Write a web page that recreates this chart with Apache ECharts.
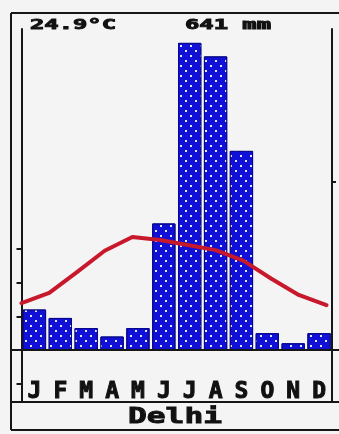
<!DOCTYPE html>
<html>
<head>
<meta charset="utf-8">
<script src="https://cdn.jsdelivr.net/npm/echarts@6/dist/echarts.min.js"></script>
<style>
  html, body { margin: 0; padding: 0; background: #f4f4f4; }
  #chart { width: 339px; height: 434px; }
</style>
</head>
<body>
<div id="chart"></div>
<script>
// Climate diagram for Delhi: monthly precipitation bars and mean temperature curve
const months = ['J', 'F', 'M', 'A', 'M', 'J', 'J', 'A', 'S', 'O', 'N', 'D'];
const precipitation = [24, 19, 13, 8, 13, 75, 182, 174, 118, 10, 4, 10];   // mm
const temperature = [13.9, 16.9, 23.1, 29.4, 33.5, 32.6, 31.1, 29.6, 26.5, 21.2, 16.3, 13.3]; // °C
const tempTicks = [-10, 10, 20, 30];
const precipTicks = [100];
const meanTempLabel = '24.9°C';
const totalPrecipLabel = '641 mm';
const stationName = 'Delhi';

const INK = '#161616';
const FONT = 'DejaVu Sans Mono';

// Frame geometry
const frameL = 11, frameT = 13, frameB = 430, pageR = 339;
const plotT = 29, plotB = 402, zeroY = 350, axisL = 21.5, axisR = 332;

// 10 °C and 20 mm share the same height
const pxPerDeg = 3.375;
const pxPerMm = pxPerDeg / 2;
const tMin = -(plotB - zeroY) / pxPerDeg, tMax = (zeroY - plotT) / pxPerDeg;
const pMin = -(plotB - zeroY) / pxPerMm, pMax = (zeroY - plotT) / pxPerMm;

function hline(y, x1, x2) {
  return { type: 'line', silent: true, z: 50,
    shape: { x1: x1, y1: y, x2: x2, y2: y },
    style: { stroke: INK, lineWidth: 2 } };
}
function vline(x, y1, y2) {
  return { type: 'line', silent: true, z: 50,
    shape: { x1: x, y1: y1, x2: x, y2: y2 },
    style: { stroke: INK, lineWidth: 2 } };
}
// Heavy block lettering: bold glyphs with a thin outline of the same ink
function label(text, x, y, size, sx, align) {
  return { type: 'text', silent: true, z: 60, x: x, y: y, scaleX: sx,
    style: { text: text, x: 0, y: 0, fill: '#111', stroke: '#111', lineWidth: 0.9,
      fontFamily: FONT, fontWeight: 'bold', fontSize: size,
      align: align, verticalAlign: 'top' } };
}

const chart = echarts.init(document.getElementById('chart'), null, { renderer: 'canvas' });
chart.setOption({
  backgroundColor: '#f4f4f4',
  animation: false,
  grid: { left: axisL, right: pageR - axisR, top: plotT, bottom: 434 - plotB, containLabel: false },
  xAxis: [
    { type: 'category', data: months,
      axisLine: { show: false }, axisTick: { show: false }, splitLine: { show: false },
      axisLabel: { inside: true, margin: -2, interval: 0, color: '#111',
        textBorderColor: '#111', textBorderWidth: 1,
        fontFamily: FONT, fontWeight: 'bold', fontSize: 23 } },
    { type: 'value', min: 0, max: 11.2, show: false }
  ],
  yAxis: [
    { type: 'value', position: 'left', min: tMin, max: tMax,
      axisLine: { show: true, lineStyle: { color: INK, width: 2 } },
      axisTick: { show: true, customValues: tempTicks, length: 5, lineStyle: { color: INK, width: 2 } },
      axisLabel: { show: false }, splitLine: { show: false } },
    { type: 'value', position: 'right', min: pMin, max: pMax,
      axisLine: { show: true, lineStyle: { color: INK, width: 2 } },
      axisTick: { show: true, customValues: precipTicks, length: 4, lineStyle: { color: INK, width: 2 } },
      axisLabel: { show: false }, splitLine: { show: false } }
  ],
  series: [
    { type: 'bar', xAxisIndex: 0, yAxisIndex: 1, data: precipitation,
      barCategoryGap: '10%', z: 2,
      itemStyle: { color: '#1010d6', borderColor: '#08088c', borderWidth: 1,
        decal: { symbol: 'rect', symbolSize: 1, color: 'rgba(228,232,255,1)',
          dashArrayX: [[2, 8], [0, 5, 2, 3]], dashArrayY: [2, 3] } } },
    { type: 'line', xAxisIndex: 1, yAxisIndex: 0,
      data: temperature.map(function (t, i) { return [i, t]; }),
      showSymbol: false, z: 5,
      lineStyle: { color: '#c8182c', width: 4, cap: 'round', join: 'round' } }
  ],
  graphic: [
    hline(frameT, frameL, pageR),
    vline(frameL, frameT, frameB),
    hline(zeroY, frameL, pageR),
    hline(plotB, frameL, pageR),
    hline(frameB, frameL, pageR),
    label(meanTempLabel, 30, 18, 14, 1.7, 'left'),
    label(totalPrecipLabel, 185, 18, 14, 1.7, 'left'),
    label(stationName, 175, 406, 22, 1.42, 'center')
  ]
});
</script>
</body>
</html>
